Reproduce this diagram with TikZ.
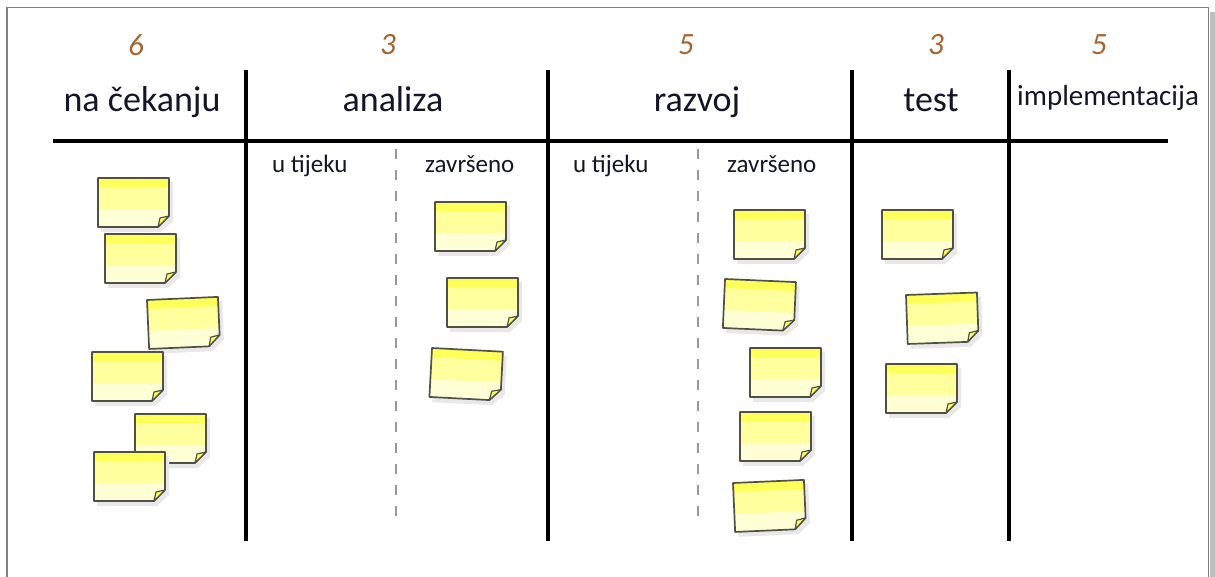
\documentclass[tikz,border=0pt]{standalone}
\usepackage{fontspec}
\setmainfont{Carlito}
\definecolor{numcol}{HTML}{A86430}
\definecolor{txtcol}{HTML}{15152A}
\definecolor{ytop}{HTML}{FFFF5A}
\definecolor{ymid}{HTML}{FFFF9E}
\definecolor{ybot}{HTML}{FFFFD6}
\definecolor{nedge}{HTML}{505048}
\tikzset{
 board/.style={line width=4pt, black},
 sub/.style={black!40, line width=1.4pt, dash pattern=on 10pt off 11pt},
 num/.style={font=\fontsize{31}{31}\selectfont\itshape, text=numcol},
 head/.style={font=\fontsize{36}{36}\selectfont, text=txtcol, anchor=base},
 subhead/.style={font=\fontsize{25}{25}\selectfont, text=txtcol, anchor=base west, inner sep=0pt},
 pics/sticky/.style={code={
   \fill[black!9] (3,4) -- (75,4) -- (75,43) -- (63,54) -- (3,54) -- cycle;
   \begin{scope}
   \clip (0,0) -- (71,0) -- (71,38) -- (60,49) -- (0,49) -- cycle;
   \fill[ybot] (0,0) rectangle (71,49);
   \fill[ymid] (0,0) rectangle (71,31);
   \fill[ytop] (0,0) rectangle (71,9);
   \end{scope}
   \draw[nedge, line width=1.7pt, line join=round] (0,0) -- (71,0) -- (71,38) -- (60,49) -- (0,49) -- cycle;
   \filldraw[fill=ytop, draw=nedge, line width=1.2pt, line join=round] (71,38) -- (62,40) -- (60,49) -- cycle;
 }}
}
\begin{document}
\begin{tikzpicture}[x=1pt,y=-1pt]
\useasboundingbox (0,0) rectangle (1215,577);
\fill[white] (0,0) rectangle (1215,577);
% frame
\fill[black!25] (1209.5,12) rectangle (1215,600);
\draw[black!50, line width=1.6pt] (7,600) -- (7,7.5) -- (1208.5,7.5) -- (1208.5,600);
% board lines
\draw[board] (53,141) -- (1168,141);
\foreach \x in {246,548,852,1009} \draw[board] (\x,70) -- (\x,541);
\foreach \x in {396,698} \draw[sub] (\x,149) -- (\x,522);
% WIP numbers
\node[num] (n1) at (136,45) {6};
\node[num] (n2) at (388,45) {3};
\node[num] (n3) at (686,45) {5};
\node[num] (n4) at (936,45) {3};
\node[num] (n5) at (1099,45) {5};
% headers
\node[head] (h1) at (142,112) {na čekanju};
\node[head] (h2) at (393,112) {analiza};
\node[head] (h3) at (697,112) {razvoj};
\node[head] (h4) at (931,112) {test};
\node[font=\fontsize{29}{29}\selectfont, text=txtcol, anchor=base west, inner sep=0pt] (h5) at (1017,106) {implementacija};
% subheaders
\node[subhead] (s1) at (272,173) {u tijeku};
\node[subhead] (s2) at (425,173) {završeno};
\node[subhead] (s3) at (573,173) {u tijeku};
\node[subhead] (s4) at (727,173) {završeno};
% sticky notes
\pic at (98,178) {sticky};
\pic at (105,234) {sticky};
\pic[rotate=2.5] at (147,300) {sticky};
\pic at (92,352) {sticky};
\pic at (135,414) {sticky};
\pic at (94,452) {sticky};
\pic at (435,202) {sticky};
\pic at (447,278) {sticky};
\pic[rotate=-3] at (432,348) {sticky};
\pic at (734,210) {sticky};
\pic[rotate=-2.5] at (725,279) {sticky};
\pic at (750,348) {sticky};
\pic at (740,412) {sticky};
\pic[rotate=2.5] at (733,483) {sticky};
\pic at (882,210) {sticky};
\pic[rotate=2] at (906,295) {sticky};
\pic at (886,364) {sticky};
\end{tikzpicture}
\end{document}
